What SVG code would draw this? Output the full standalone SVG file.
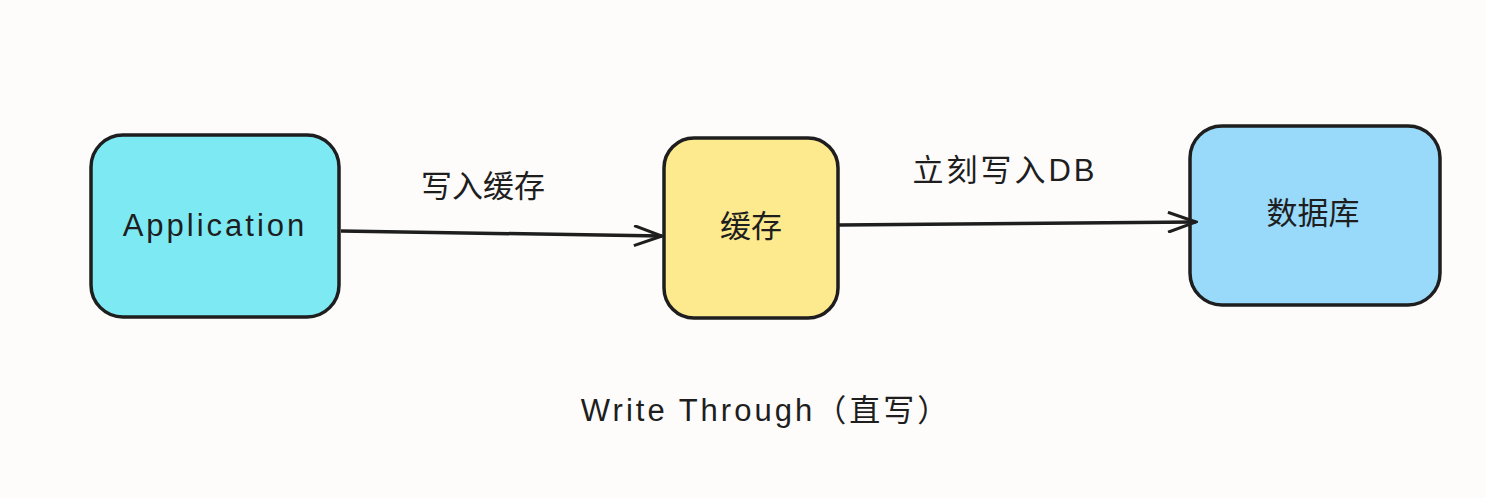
<svg xmlns="http://www.w3.org/2000/svg" width="1486" height="498" viewBox="0 0 1486 498">
<style>
.box{stroke:#1e1e1e;stroke-width:3.5}
.t{font-family:"Liberation Sans","Noto Sans CJK SC",sans-serif;font-size:31px;fill:#1e1e1e;text-anchor:middle;dominant-baseline:central}
.w{letter-spacing:3px}
.c{stroke:#1e1e1e;stroke-width:3.5;fill:none}
</style>
<defs><marker id="a" markerWidth="32" markerHeight="22" refX="30" refY="11" orient="auto" markerUnits="userSpaceOnUse"><path d="M2 1 L30 11 L2 21" fill="none" stroke="#1e1e1e" stroke-width="3"/></marker></defs>
<rect width="1486" height="498" fill="#fdfcfb"/>
<g id="app"><rect class="box" x="91" y="135" width="248" height="182" rx="32" fill="#7deaf3"/><text class="t w" x="215" y="225">Application</text></g>
<g id="cache"><rect class="box" x="664" y="138" width="174" height="180" rx="30" fill="#fde98e"/><text class="t" x="751" y="226">缓存</text></g>
<g id="db"><rect class="box" x="1190" y="126" width="250" height="179" rx="32" fill="#99d9fa"/><text class="t" x="1313" y="213">数据库</text></g>
<g id="connectors">
<line class="c" x1="341" y1="231" x2="662" y2="236" marker-end="url(#a)"/>
<line class="c" x1="839" y1="225" x2="1196" y2="222" marker-end="url(#a)"/>
</g>
<g id="labels">
<text class="t" x="483" y="186">写入缓存</text>
<text class="t w" x="1005" y="170">立刻写入DB</text>
<text class="t w" x="766" y="410" font-size="32">Write Through（直写）</text>
</g>
</svg>
